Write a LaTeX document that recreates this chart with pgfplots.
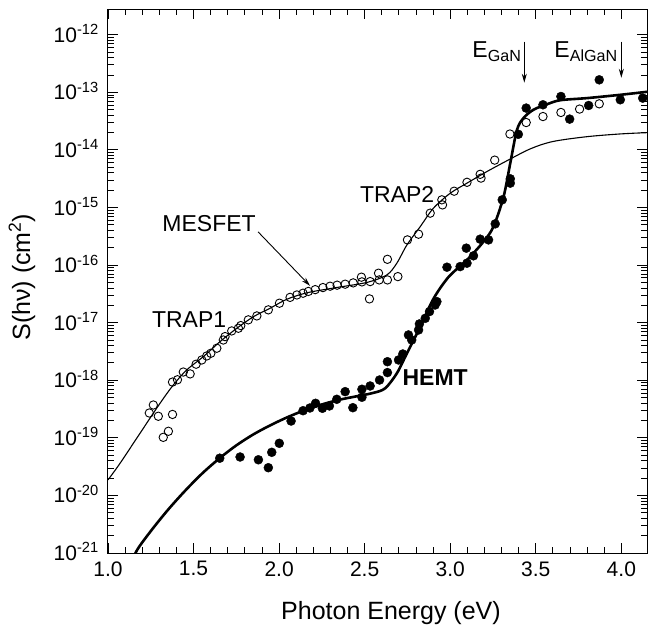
\documentclass[border=0pt]{standalone}
\usepackage{fontspec}
\setmainfont{Liberation Sans}
\usepackage{pgfplots}
\pgfplotsset{compat=1.18}
\usetikzlibrary{arrows.meta}
\begin{document}
\begin{tikzpicture}
\useasboundingbox (-108pt,-75pt) rectangle (540pt,553pt);
\begin{axis}[
  at={(0pt,0pt)}, anchor=south west,
  scale only axis, width=539pt, height=544pt,
  xmin=1, xmax=4.15,
  ymode=log, ymin=1e-21, ymax=2.8e-12,
  xtick={1,1.5,2,2.5,3,3.5,4},
  xticklabels={1.0,1.5,2.0,2.5,3.0,3.5,4.0},
  minor x tick num=4,
  ytick={1e-21,1e-20,1e-19,1e-18,1e-17,1e-16,1e-15,1e-14,1e-13,1e-12},
  yticklabels={10\textsuperscript{-21},10\textsuperscript{-20},10\textsuperscript{-19},10\textsuperscript{-18},10\textsuperscript{-17},10\textsuperscript{-16},10\textsuperscript{-15},10\textsuperscript{-14},10\textsuperscript{-13},10\textsuperscript{-12}},
  tick align=inside,
  major tick length=10pt, minor tick length=6pt,
  axis line style={line width=1pt},
  every tick/.style={line width=0.9pt, black},
  xticklabel style={font=\fontsize{21}{25}\selectfont, yshift=-5pt},
  yticklabel style={font=\fontsize{21}{25}\selectfont, anchor=base east, inner xsep=9pt, yshift=-7.5pt},
  xlabel={Photon Energy (eV)},
  ylabel={S(hν) (cm\textsuperscript{2})},
  xlabel style={font=\fontsize{25}{30}\selectfont, at={(axis description cs:0.525,-0.123)}, anchor=base},
  ylabel style={font=\fontsize{25}{30}\selectfont, at={(axis description cs:-0.1596,0.507)}, anchor=center},
]
% MESFET fit
\addplot[black, line width=1.1pt, smooth, tension=0.5] coordinates {
(1.0,1.86e-20) (1.07,3.6e-20) (1.187,1.2e-19) (1.304,3.98e-19) (1.382,8.3e-19)
(1.46,1.51e-18) (1.557,2.57e-18) (1.655,4.69e-18) (1.753,8.0e-18) (1.85,1.27e-17)
(1.947,1.78e-17) (2.045,2.55e-17) (2.162,3.3e-17) (2.318,4.0e-17) (2.513,5.0e-17)
(2.63,6.76e-17) (2.688,1.08e-16) (2.747,2.24e-16) (2.825,4.67e-16) (2.902,9.75e-16)
(3.0,1.77e-15) (3.098,2.65e-15) (3.215,4.22e-15) (3.332,6.5e-15) (3.47,1.05e-14)
(3.6,1.40e-14) (3.8,1.70e-14) (4.0,1.9e-14) (4.16,2.0e-14)
};
% HEMT fit
\addplot[black, line width=2.6pt, smooth, tension=0.5] coordinates {
(1.12,5.0e-22) (1.168,1.1e-21) (1.25,2.4e-21) (1.35,5.6e-21) (1.45,1.2e-20)
(1.55,2.4e-20) (1.65,4.37e-20) (1.75,7.4e-20) (1.85,1.15e-19) (1.95,1.66e-19)
(2.05,2.29e-19) (2.15,3.02e-19) (2.25,3.8e-19) (2.35,4.57e-19) (2.45,5.25e-19)
(2.55,6.03e-19) (2.62,7.26e-19) (2.688,1.32e-18)
(2.747,2.94e-18) (2.825,8.5e-18) (2.902,2.6e-17) (2.99,6.2e-17) (3.098,1.23e-16)
(3.195,2.56e-16) (3.253,4.67e-16) (3.312,1.55e-15) (3.351,5.9e-15) (3.39,2.23e-14)
(3.429,3.6e-14) (3.487,5.0e-14) (3.565,6.2e-14) (3.643,7.3e-14) (3.799,7.94e-14)
(3.994,9.06e-14) (4.16,1.03e-13)
};
% MESFET data
\addplot[only marks, mark=o, mark size=4.2pt, mark options={line width=0.9pt, fill=white, draw=black}] coordinates {
(1.2415,2.70e-19) (1.265,3.72e-19) (1.294,2.37e-19) (1.323,1.02e-19) (1.353,1.30e-19)
(1.377,2.55e-19) (1.377,9.3e-19) (1.406,1.02e-18) (1.440,1.39e-18) (1.480,1.29e-18)
(1.515,1.90e-18) (1.548,2.25e-18) (1.577,2.64e-18) (1.601,2.94e-18) (1.636,3.60e-18)
(1.674,5.0e-18) (1.684,5.73e-18) (1.723,7.19e-18) (1.762,8.0e-18) (1.776,8.9e-18)
(1.820,1.12e-17) (1.870,1.31e-17) (1.937,1.67e-17) (2.002,2.18e-17) (2.064,2.75e-17)
(2.104,3.03e-17) (2.140,3.25e-17) (2.171,3.49e-17) (2.211,3.75e-17) (2.256,4.07e-17)
(2.298,4.30e-17) (2.339,4.48e-17) (2.386,4.66e-17) (2.433,4.91e-17) (2.481,6.17e-17)
(2.484,5.11e-17) (2.532,5.17e-17) (2.528,2.59e-17) (2.581,7.23e-17) (2.585,5.53e-17)
(2.633,1.26e-16) (2.633,5.53e-17) (2.694,6.31e-17) (2.750,2.74e-16) (2.815,3.44e-16)
(2.883,7.98e-16) (2.951,1.36e-15) (2.955,1.11e-15) (3.023,1.92e-15) (3.098,2.74e-15)
(3.175,3.77e-15) (3.180,3.24e-15) (3.260,6.65e-15) (3.349,1.89e-14) (3.444,2.99e-14)
(3.542,3.80e-14) (3.647,4.47e-14) (3.756,5.12e-14) (3.871,6.32e-14)
};
% HEMT data
\addplot[only marks, mark=*, mark size=4.5pt, mark options={fill=black, draw=black}] coordinates {
(1.653,4.43e-20) (1.772,4.65e-20) (1.879,4.16e-20) (1.937,3.03e-20) (1.957,5.61e-20)
(2.001,8.04e-20) (2.070,1.96e-19) (2.140,2.96e-19) (2.180,3.30e-19) (2.213,3.98e-19)
(2.253,3.26e-19) (2.294,3.58e-19) (2.337,4.67e-19) (2.386,6.34e-19) (2.431,3.34e-19)
(2.484,6.98e-19) (2.484,5.07e-19) (2.532,7.96e-19) (2.587,1.01e-18) (2.633,1.36e-18)
(2.633,2.10e-18) (2.698,2.25e-18) (2.723,2.86e-18) (2.756,6.12e-18) (2.775,5.01e-18)
(2.815,7.48e-18) (2.820,9.51e-18) (2.854,1.19e-17) (2.879,1.56e-17) (2.912,2.03e-17)
(2.922,2.32e-17) (2.981,9.19e-17) (3.058,9.42e-17) (3.094,1.97e-16) (3.098,1.08e-16)
(3.136,1.45e-16) (3.175,2.82e-16) (3.224,2.74e-16) (3.263,5.20e-16) (3.304,1.36e-15)
(3.351,3.15e-15) (3.351,2.65e-15) (3.398,1.87e-14) (3.444,5.33e-14) (3.542,6.08e-14)
(3.647,8.47e-14) (3.698,3.43e-14) (3.809,5.91e-14) (3.871,1.65e-13) (3.994,7.43e-14)
(4.125,7.94e-14)
};
% annotations
\node[inner sep=0pt, font=\fontsize{23}{27}\selectfont] at (axis cs:1.591,5.2e-16) {MESFET};
\draw[line width=0.9pt, -{Stealth[length=9pt,width=5pt]}] (axis cs:1.877,3.78e-16) -- (axis cs:2.181,4.36e-17);
\node[inner sep=0pt, font=\fontsize{23}{27}\selectfont] at (axis cs:1.474,1.12e-17) {TRAP1};
\node[inner sep=0pt, font=\fontsize{23}{27}\selectfont] at (axis cs:2.690,1.66e-15) {TRAP2};
\node[inner sep=0pt, font=\fontsize{23}{27}\selectfont\bfseries] at (axis cs:2.912,1.1e-18) {HEMT};
\node[inner sep=0pt, anchor=base west, font=\fontsize{23}{27}\selectfont] at (axis cs:3.129,3.98e-13) {E\textsubscript{GaN}};
\node[inner sep=0pt, anchor=base west, font=\fontsize{23}{27}\selectfont] at (axis cs:3.608,3.98e-13) {E\textsubscript{AlGaN}};
\draw[line width=0.9pt, -{Stealth[length=9pt,width=5pt]}] (axis cs:3.433,7.6e-13) -- (axis cs:3.433,1.47e-13);
\draw[line width=0.9pt, -{Stealth[length=9pt,width=5pt]}] (axis cs:4.0,7.6e-13) -- (axis cs:4.0,1.79e-13);
\end{axis}
\end{tikzpicture}
\end{document}
